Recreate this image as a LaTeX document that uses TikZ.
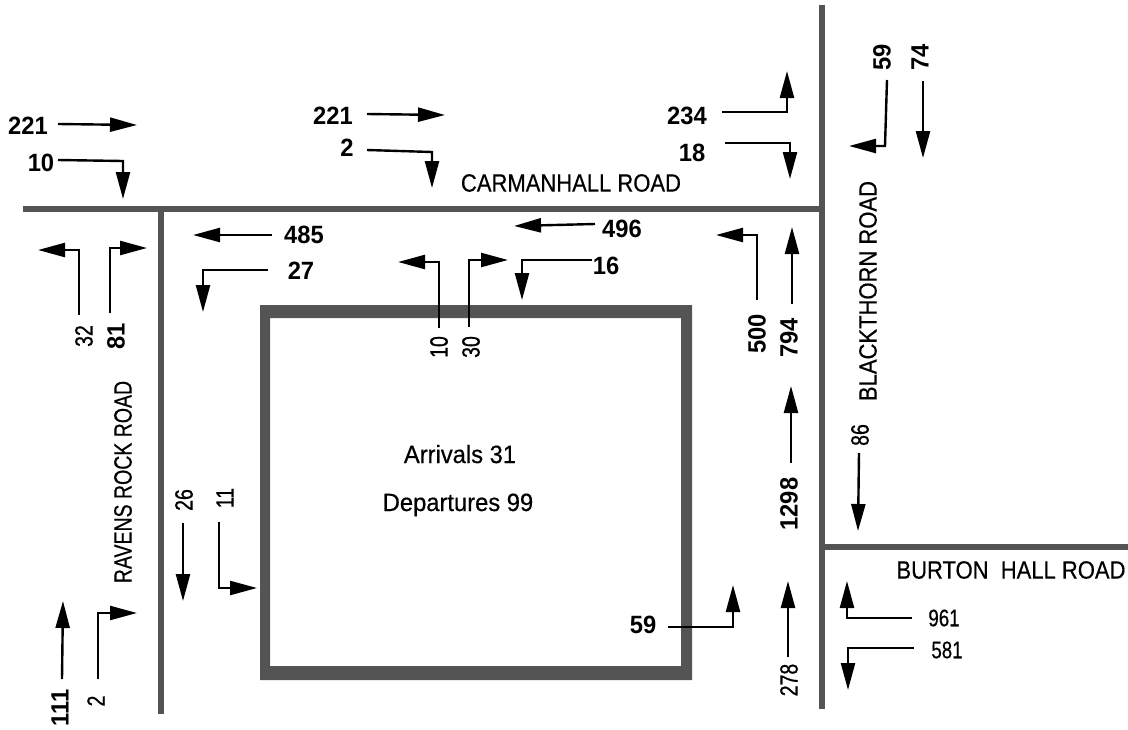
\documentclass[tikz,border=0pt]{standalone}
\usepackage{fontspec}
\setmainfont{Liberation Sans}
\newfontfamily\roadfont[FakeStretch=0.88, FakeBold=0.4]{Liberation Sans}
\newfontfamily\ravenfont[FakeStretch=0.78, FakeBold=0.4]{Liberation Sans}
\newfontfamily\sitefont[FakeStretch=0.95, FakeBold=0.5]{Liberation Sans}
\newfontfamily\countfont[FakeStretch=0.95]{Liberation Sans}
\newfontfamily\thinfont[FakeStretch=0.78, FakeBold=0.4]{Liberation Sans}
\newfontfamily\narrowfont[FakeStretch=0.78, FakeBold=0.7]{Liberation Sans}
\usetikzlibrary{arrows.meta}
\definecolor{roadgray}{RGB}{84, 84, 84}
\tikzset{
  road/.style={draw=roadgray, line width=6pt},
  building/.style={fill=roadgray, even odd rule},
  flow/.style={-{Triangle[length=27pt, width=14pt]}, line width=2.4pt, black},
  boldcount/.style={font=\countfont\fontsize{25}{25}\selectfont\bfseries, inner sep=0pt},
  thincount/.style={font=\thinfont\fontsize{24}{24}\selectfont, inner sep=0pt},
  narrowcount/.style={font=\narrowfont\fontsize{25}{25}\selectfont, inner sep=0pt},
  roadname/.style={font=\roadfont\fontsize{25}{25}\selectfont, inner sep=0pt},
  ravenname/.style={font=\ravenfont\fontsize{25}{25}\selectfont, inner sep=0pt},
  sitetext/.style={font=\sitefont\fontsize{25}{25}\selectfont, inner sep=0pt, anchor=base},
}
\begin{document}
\begin{tikzpicture}[x=1pt, y=-1pt]
  \useasboundingbox (0,0) rectangle (1128,729);
  % roads
  \draw[road] (23,209) -- (822,209);
  \draw[road] (161,209) -- (161,714);
  \draw[road] (822,5) -- (822,709);
  \draw[road] (822,547) -- (1128,547);
  \path[building] (260,305) rectangle (692,680) (270,318) rectangle (681,666);
  % straight arrows
  \foreach \xa/\ya/\xb/\yb in {58/124/137/125, 367/114/445/115, 923/81/923/158, 272/235/193/235,
    595/224/514/226, 792/304/792/227, 791/463/791/386, 859/453/858/531, 788/657/788/581,
    183/523/183/601, 62/679/63/601}
    \draw[flow] (\xa,\ya) -- (\xb,\yb);
  % turning arrows
  \foreach \xa/\ya/\xb/\yb/\xc/\yc in {58/160/123/161/123/199, 367/150/432/152/432/188,
    722/112/787/112/787/71, 725/143/790/143/790/179, 887/80/885/146/849/146,
    268/270/203/270/203/312, 79/315/79/250/38/250, 110/313/110/248/147/248,
    592/260/522/260/522/300, 439/328/439/262/398/262, 469/327/469/260/508/260,
    757/300/757/235/716/235, 668/627/733/627/733/585, 912/618/847/618/847/581,
    914/648/848/648/848/690, 219/522/219/588/257/588, 98/679/98/613/137/613}
    \draw[flow] (\xa,\ya) -- (\xb,\yb) -- (\xc,\yc);
  % counts on Carmanhall Road
  \node[boldcount] (carmA) at (28,126) {221};
  \node[boldcount] (carmB) at (41,163) {10};
  \node[boldcount] (carmC) at (333,116) {221};
  \node[boldcount] (carmD) at (347,148) {2};
  \node[boldcount] (carmE) at (687,116) {234};
  \node[boldcount] (carmF) at (692,153) {18};
  \node[boldcount] (carmG) at (304,235) {485};
  \node[boldcount] (carmH) at (301,271) {27};
  \node[boldcount] (carmI) at (622,229) {496};
  \node[boldcount] (carmJ) at (606,266) {16};
  % counts on Blackthorn Road
  \node[boldcount, rotate=90] (blackA) at (882,57) {59};
  \node[boldcount, rotate=90] (blackB) at (920,57) {74};
  \node[boldcount, rotate=90] (blackC) at (757,334) {500};
  \node[boldcount, rotate=90] (blackD) at (789,338) {794};
  \node[boldcount, rotate=90] (blackE) at (789,504) {1298};
  \node[narrowcount, rotate=90] (blackF) at (860,435) {86};
  \node[narrowcount, rotate=90] (blackG) at (789,680) {278};
  % counts on Ravens Rock Road
  \node[narrowcount, rotate=90] (ravenA) at (84,336) {32};
  \node[boldcount, rotate=90] (ravenB) at (116,336) {81};
  \node[narrowcount, rotate=90] (ravenC) at (184,500) {26};
  \node[narrowcount, rotate=90] (ravenD) at (225,498) {11};
  \node[boldcount, rotate=90] (ravenE) at (60,708) {111};
  \node[narrowcount, rotate=90] (ravenF) at (96,701) {2};
  % counts at the site
  \node[narrowcount, rotate=90] (siteA) at (439,347) {10};
  \node[narrowcount, rotate=90] (siteB) at (471,347) {30};
  \node[boldcount] (siteC) at (643,625) {59};
  % counts on Burton Hall Road
  \node[thincount] (burtA) at (944,618) {961};
  \node[thincount] (burtB) at (947,650) {581};
  % names
  \node[roadname] (carmname) at (571,183) {CARMANHALL ROAD};
  \node[roadname, rotate=90] (blackname) at (868,291) {BLACKTHORN ROAD};
  \node[ravenname, rotate=90] (ravenname) at (123,482) {RAVENS ROCK ROAD};
  \node[roadname] (burtname) at (1011,570) {BURTON\ \ HALL ROAD};
  \node[sitetext] (arrivals) at (460,463) {Arrivals 31};
  \node[sitetext] (departures) at (458,511) {Departures 99};
\end{tikzpicture}
\end{document}
